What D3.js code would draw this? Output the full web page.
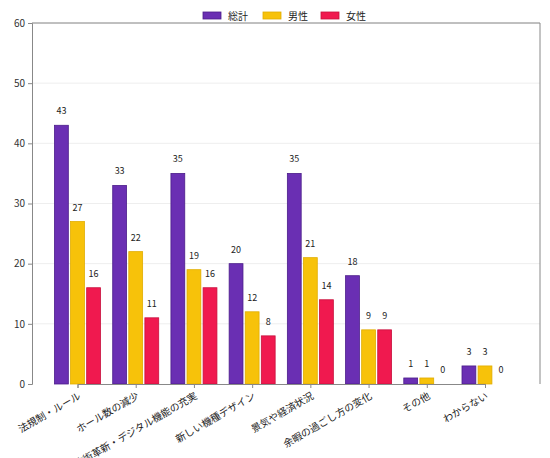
<!DOCTYPE html><html><head><meta charset="utf-8">
<script src="https://cdn.jsdelivr.net/npm/d3@7"></script>
<style>body{margin:0;background:#fff}text{font-family:"Noto Sans CJK JP","Noto Sans",sans-serif}</style></head><body>
<svg id="c" width="550" height="458"></svg>
<script>
const categories=["法規制・ルール","ホール数の減少","技術革新・デジタル機能の充実","新しい機種デザイン","景気や経済状況","余暇の過ごし方の変化","その他","わからない"];
const seriesNames=["総計","男性","女性"];
const total=[43,33,35,20,35,18,1,3];
const male=[27,22,19,12,21,9,1,3];
const female=[16,11,16,8,14,9,0,0];
const yTicks=[0,10,20,30,40,50,60];
const colors=["#6a2fb3","#f7c20a","#f0194f"];
const strokes=["#4b1d8a","#e0ad00","#c8103c"];
const data=[total,male,female];
const svg=d3.select("#c");
const m={l:32,r:540,t:23,b:384};
const x=d3.scalePoint().domain(categories).range([77.5,485]);
const xs=d3.scaleBand().domain(seriesNames).range([-23,23]).paddingInner(0.14);
const y=d3.scaleLinear().domain([0,60]).range([m.b,m.t]);
svg.append("g").selectAll("line").data(yTicks.slice(1)).join("line").attr("x1",m.l).attr("x2",m.r).attr("y1",d=>y(d)).attr("y2",d=>y(d)).attr("stroke","#eee");
seriesNames.forEach((s,i)=>{
 const g=svg.append("g");
 g.selectAll("rect").data(categories).join("rect").attr("x",c=>x(c)+xs(s)).attr("width",xs.bandwidth())
  .attr("y",(c,j)=>y(data[i][j])).attr("height",(c,j)=>y(0)-y(data[i][j])).attr("fill",colors[i]).attr("stroke",strokes[i]).attr("stroke-width",0.8);
 g.selectAll("text").data(categories).join("text").attr("x",c=>x(c)+xs(s)+xs.bandwidth()/2).attr("y",(c,j)=>y(data[i][j])-11)
  .attr("text-anchor","middle").attr("font-size",9).attr("fill","#222").text((c,j)=>data[i][j]);
});
const ya=svg.append("g").attr("transform",`translate(${m.l},0)`).call(d3.axisLeft(y).tickValues(yTicks).tickSize(4));
ya.selectAll("text").attr("font-size",10).attr("fill","#333");
const xa=svg.append("g").attr("transform",`translate(0,${m.b})`).call(d3.axisBottom(x).tickSize(4));
xa.selectAll("text").attr("font-size",10).attr("fill","#222").attr("text-anchor","end").attr("x",0).attr("y",8).attr("dy","0.7em").attr("transform","rotate(-30 0 8)");
[ya,xa].forEach(a=>{a.selectAll("line,path").attr("stroke","#888");});
svg.append("line").attr("x1",m.l).attr("x2",m.r).attr("y1",m.t).attr("y2",m.t).attr("stroke","#888");
svg.append("line").attr("x1",m.r).attr("x2",m.r).attr("y1",m.t).attr("y2",m.b).attr("stroke","#888");
const lx=[203,263,321];
seriesNames.forEach((s,i)=>{
 svg.append("rect").attr("x",lx[i]).attr("y",12).attr("width",18).attr("height",7).attr("fill",colors[i]).attr("stroke",strokes[i]).attr("stroke-width",0.8);
 svg.append("text").attr("x",lx[i]+25).attr("y",19.5).attr("font-size",10).attr("fill","#222").text(s);
});
</script></body></html>
